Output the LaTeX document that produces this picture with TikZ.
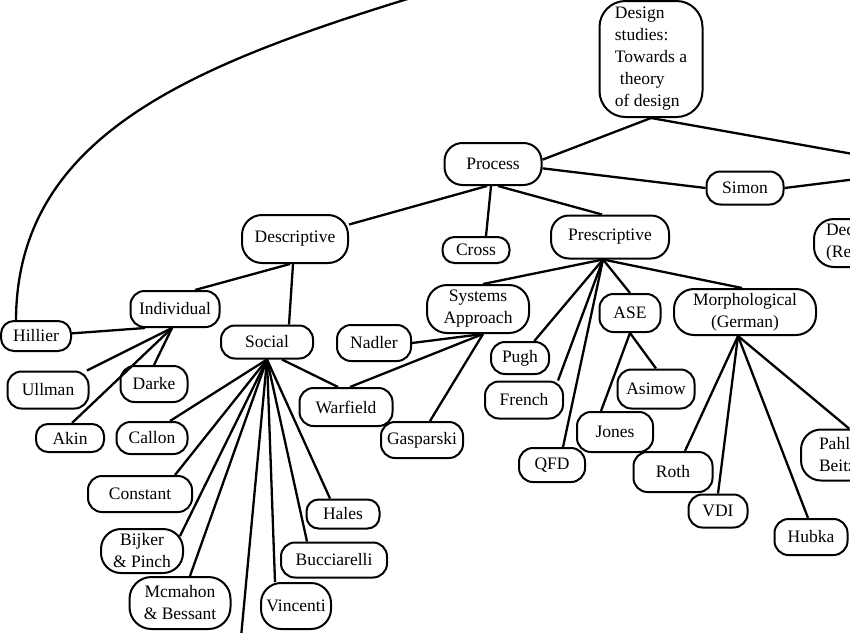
\documentclass[tikz,border=0pt]{standalone}
\usepackage{fontspec}
\setmainfont{Liberation Serif}
\tikzset{
	box/.style={draw, line width=2pt, rounded corners=14pt, inner sep=1pt, align=center,
		font=\fontsize{17.5}{22}\selectfont},
	dims/.style 2 args={minimum width=#1pt, minimum height=#2pt},
	link/.style={line width=2.3pt},
}

\begin{document}
\begin{tikzpicture}[x=1pt, y=-1pt]
		\useasboundingbox (0,0) rectangle (850,632);
		\clip (0,0) rectangle (850,632);
		% top levels
		\node[box, dims={103}{116}, rounded corners=26pt, align=left] (root) at (651,59) {Design\\studies:\\Towards a\\\hspace*{5pt}theory\\of design};
		\node[box, dims={97}{42}, rounded corners=18pt] (process) at (493,164) {Process};
		\node[box, dims={77}{33}] (simon) at (745,188) {Simon};
		\node[box, dims={106}{48}, rounded corners=20pt] (descriptive) at (295,239) {Descriptive};
		\node[box, dims={67}{26}, rounded corners=12pt] (cross) at (476,250) {Cross};
		\node[box, dims={118}{43}, rounded corners=18pt] (prescriptive) at (610,237) {Prescriptive};
		\node[box, minimum height=48pt, inner xsep=12pt, rounded corners=20pt, align=left, anchor=west] (dec) at (813,243) {Decision\\(Reasoning)};
		% descriptive side
		\node[box, dims={89}{36}] (individual) at (175,309) {Individual};
		\node[box, dims={70}{30}, rounded corners=13pt] (hillier) at (36,336) {Hillier};
		\node[box, dims={81}{37}] (ullman) at (48,390) {Ullman};
		\node[box, dims={67}{36}] (darke) at (154,384) {Darke};
		\node[box, dims={68}{28}, rounded corners=12pt] (akin) at (70,438) {Akin};
		\node[box, dims={92}{33}] (social) at (267,342) {Social};
		\node[box, dims={71}{32}] (callon) at (152,438) {Callon};
		\node[box, dims={104}{36}] (constant) at (140,494) {Constant};
		\node[box, dims={82}{44}, rounded corners=20pt] (bijker) at (142,551) {Bijker\\\& Pinch};
		\node[box, dims={101}{52}, rounded corners=22pt] (mcmahon) at (180,603) {Mcmahon\\\& Bessant};
		\node[box, dims={70}{46}, rounded corners=20pt] (vincenti) at (296,606) {Vincenti};
		\node[box, dims={106}{35}] (bucciarelli) at (334,560) {Bucciarelli};
		\node[box, dims={73}{29}, rounded corners=12pt] (hales) at (343,514) {Hales};
		\node[box, dims={93}{38}] (warfield) at (346,407) {Warfield};
		% prescriptive side
		\node[box, dims={102}{48}, rounded corners=20pt] (systems) at (478,309) {Systems\\Approach};
		\node[box, dims={74}{36}] (nadler) at (374,343) {Nadler};
		\node[box, dims={82}{36}] (gasparski) at (422,440) {Gasparski};
		\node[box, dims={58}{32}] (pugh) at (520,358) {Pugh};
		\node[box, dims={78}{37}] (french) at (524,400) {French};
		\node[box, dims={66}{34}] (qfd) at (552,465) {QFD};
		\node[box, dims={61}{38}] (ase) at (630,313) {ASE};
		\node[box, dims={77}{39}] (asimow) at (656,389) {Asimow};
		\node[box, dims={76}{40}] (jones) at (615,432) {Jones};
		\node[box, dims={142}{46}, rounded corners=20pt] (morph) at (745,312) {Morphological\\(German)};
		\node[box, dims={79}{40}] (roth) at (673,472) {Roth};
		\node[box, dims={59}{33}] (vdi) at (718,511) {VDI};
		\node[box, dims={73}{36}] (hubka) at (811,537) {Hubka};
		\node[box, minimum height=51pt, inner xsep=18pt, rounded corners=20pt, align=left, anchor=west] (pahl) at (800,455) {Pahl \&\\Beitz};
		% ends that run off the page
		\coordinate (product) at (937,169);
		\coordinate (below) at (237,680);
		\coordinate (above) at (470,-20);

		\draw[link] (root.south) -- (process.5);
		\draw[link] (root.south) -- (product);
		\draw[link] (process.-5) -- (simon.west);
		\draw[link] (simon.east) -- (product);
		\draw[link] ([xshift=-6pt]process.south) -- (descriptive.15);
		\draw[link] ([xshift=-2pt]process.south) -- ([xshift=10pt]cross.north);
		\draw[link] ([xshift=5pt]process.south) -- ([xshift=-8pt]prescriptive.north);

		\draw[link] ([xshift=-5pt]descriptive.south) -- ([xshift=20pt]individual.north);
		\draw[link] ([xshift=-2pt]descriptive.south) -- ([xshift=22pt]social.north);
		\draw[link] ([xshift=-30pt]individual.south) -- (hillier);
		\draw[link] ([xshift=-3pt]individual.south) -- (ullman);
		\draw[link] ([xshift=-3pt]individual.south) -- ([xshift=2pt]akin.north);
		\draw[link] ([xshift=-3pt]individual.south) -- (darke.north);
		\draw[link] ([xshift=16pt]hillier.north west) .. controls (17,121) and (220,55) .. (above);

		\draw[link] (social.south) -- ([xshift=18pt]callon.north);
		\draw[link] (social.south) -- ([xshift=35pt]constant.north);
		\draw[link] (social.south) -- ([xshift=-4pt,yshift=-8pt]bijker.north east);
		\draw[link] (social.south) -- ([xshift=10pt]mcmahon.north);
		\draw[link] (social.south) -- (below);
		\draw[link] (social.south) -- ([xshift=-21pt]vincenti.north);
		\draw[link] (social.south) -- ([xshift=-27pt]bucciarelli.north);
		\draw[link] (social.south) -- ([xshift=-13pt]hales.north);
		\draw[link] ([xshift=15pt]social.south) -- ([xshift=-8pt]warfield.north);

		\draw[link] ([xshift=-7pt]prescriptive.south) -- ([xshift=5pt]systems.north);
		\draw[link] ([xshift=-7pt]prescriptive.south) -- (pugh);
		\draw[link] ([xshift=-7pt]prescriptive.south) -- ([xshift=34pt]french.north);
		\draw[link] ([xshift=-7pt]prescriptive.south) -- ([xshift=11pt]qfd.north);
		\draw[link] ([xshift=-7pt]prescriptive.south) -- (ase.north);
		\draw[link] ([xshift=-7pt]prescriptive.south) -- ([xshift=-3pt]morph.north);

		\draw[link] ([xshift=5pt]systems.south) -- (nadler.east);
		\draw[link] ([xshift=5pt]systems.south) -- ([xshift=4pt]warfield.north);
		\draw[link] ([xshift=5pt]systems.south) -- ([xshift=8pt]gasparski.north);
		\draw[link] (ase.south) -- (asimow.north);
		\draw[link] (ase.south) -- ([xshift=-14pt]jones.north);
		\draw[link] ([xshift=-7pt]morph.south) -- ([xshift=12pt]roth.north);
		\draw[link] ([xshift=-7pt]morph.south) -- (vdi.north);
		\draw[link] ([xshift=-7pt]morph.south) -- ([xshift=-3pt]hubka.north);
		\draw[link] ([xshift=-7pt]morph.south) -- ([xshift=49pt]pahl.north west);
	\end{tikzpicture}
\end{document}
